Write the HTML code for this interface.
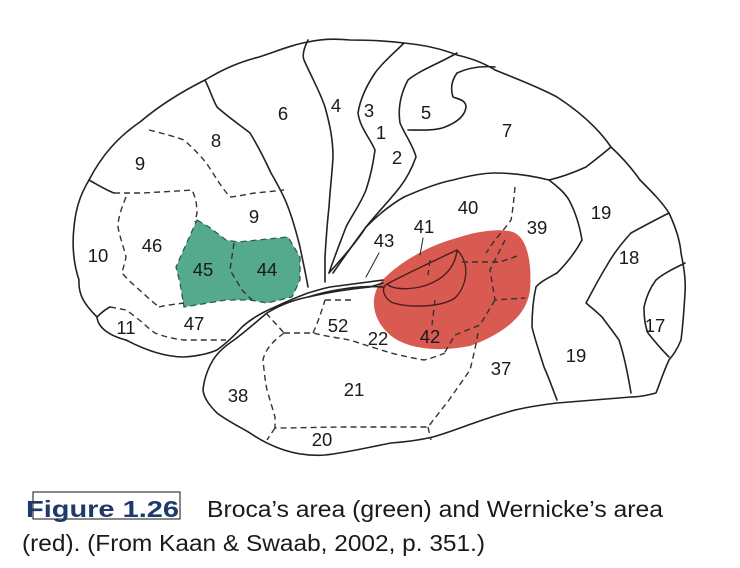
<!DOCTYPE html>
<html><head><meta charset="utf-8"><style>
html,body{margin:0;padding:0;background:#fff;}
svg{display:block;}
.s{fill:none;stroke:#222;stroke-width:1.6;stroke-linejoin:round;stroke-linecap:round;}
.d{fill:none;stroke:#333;stroke-width:1.4;stroke-dasharray:6 4;}
.l{font-family:"Liberation Sans",sans-serif;font-size:18.5px;fill:#1a1a1a;text-anchor:middle;}
</style></head><body>
<svg width="740" height="568" viewBox="0 0 740 568">
<g>
<path d="M197,220 L209,227 L226,240 L238,242 L288,237 L300,257 L300,280 L292,297 L267,303 L250,300 L226,300 L184,307 L180,283 L176,267 L188,240 Z" fill="#55a98c" stroke="#2d5e4e" stroke-width="1.3" stroke-dasharray="6 4"/>
<path class="d" d="M234,243 L230,270 L242,290 L255,303"/>
</g>
<g>
<path d="M457,238 C480,230 505,228 515,233 C528,240 532,265 530,290 C527,315 505,333 470,346 C440,352 405,350 388,333 C372,318 370,298 380,283 C398,262 430,245 457,238 Z" fill="#d85a50"/>
<path d="M457,250 C470,262 468,285 455,298 C440,308 405,308 391,302 C383,296 381,288 387,284 C410,272 440,258 457,250 Z M457,250 C455,270 440,282 420,287 C405,290 392,289 387,284" fill="none" stroke="#4a1e1e" stroke-width="1.4"/>
<path class="d" d="M462,262 L500,262 L520,255 M505,240 L490,270 L495,300 L525,298 M495,300 L480,325 L455,335 L445,352 M430,260 L428,275 M435,300 L432,325"/>
</g>
<g>
<path class="s" d="M126,340 C110,336 98,328 97,317 C85,305 78,295 79,280 C73,262 72,245 74,227 C76,205 82,192 89,180 C102,155 118,137 140,122 C160,105 185,90 205,80 C225,68 240,62 259,57 C280,50 295,44 308,42 C325,38 340,39 350,40 C370,40 388,41 404,43 C425,45 442,49 457,55 C470,58 484,63 495,70 C520,80 540,88 557,97 C580,112 598,128 611,147 C625,160 633,170 640,180 C652,192 662,202 669,213 C676,228 680,240 681,253 C684,268 686,280 685,293 C684,310 683,325 681,340 C677,350 673,355 669,360 C663,373 660,383 656,393 C645,396 638,397 631,397 C605,399 580,401 557,403 C540,405 528,407 515,410 C500,414 488,418 474,423 C460,428 447,433 433,437 C420,440 405,442 391,443 C370,447 345,453 325,455 C310,456 296,454 284,450 C272,446 260,440 250,433 C238,426 226,420 217,413 C209,405 204,398 203,390 C204,380 207,370 213,360 C218,352 225,346 234,340 C245,332 256,322 267,313 C280,305 293,300 308,297 C330,292 350,289 370,287 L383,283"/>
<path class="s" d="M126,340 C145,350 165,357 184,357 C198,356 208,354 217,350 C228,342 235,335 242,327 C252,318 263,312 275,307 C290,300 300,296 308,293 C318,290 325,288 330,287 L383,280"/>
<path class="s" d="M308,40 C304,48 302,55 304,60 C312,78 320,92 325,107 C330,125 333,140 333,157 C332,175 330,190 329,207 C327,225 326,240 325,257 C325,268 325,275 325,282"/>
<path class="s" d="M404,43 C392,55 382,63 375,73 C365,88 360,100 358,113 C360,128 370,138 375,150 C373,165 370,178 366,190 C360,205 352,215 346,227 C340,243 334,258 329,273"/>
<path class="s" d="M457,53 C440,63 420,70 408,80 C400,95 398,110 400,123 C405,135 413,145 416,157 C412,168 407,178 400,187 C390,200 378,212 366,227 C354,243 342,260 333,273"/>
<path class="s" d="M408,130 C420,130 435,131 445,127 C458,122 465,115 466,107 C466,100 458,99 453,97 C450,88 452,80 457,73 C470,67 484,66 495,67"/>
<path class="s" d="M404,197 C420,190 437,183 453,180 C468,176 482,173 495,173 C515,173 533,176 549,180 C562,177 575,172 586,167 C595,160 604,153 611,147"/>
<path class="s" d="M549,180 C558,187 565,193 569,200 C576,213 580,228 582,240 C575,253 566,264 557,273 C548,278 540,282 536,287 C533,300 532,315 532,327 C535,340 540,354 544,367 C549,378 553,390 557,400"/>
<path class="s" d="M669,213 C655,220 642,227 631,233 C620,245 612,256 606,267 C598,280 592,292 586,303 C592,308 598,313 602,317 C608,325 614,333 619,340 C624,355 628,375 631,393"/>
<path class="s" d="M685,263 C675,268 664,273 656,280 C650,288 646,298 644,307 C644,317 645,326 648,333 C655,342 662,350 669,357"/>
<path class="s" d="M205,80 C210,90 213,100 217,107 C228,117 240,125 250,133 C258,146 265,160 271,173 C278,185 284,196 288,207 C293,220 297,235 300,247 C303,262 306,275 308,287"/>
<path class="s" d="M89,180 C98,185 106,190 114,193"/>
<path class="s" d="M97,317 C102,312 106,309 110,307"/>
<path class="s" d="M329,273 C345,255 358,240 366,227 C378,215 390,205 404,197"/>
<path class="s" d="M308,297 C330,290 360,285 383,287"/>
</g>
<g>
<path class="d" d="M149,130 C165,134 176,137 184,140 C195,150 203,158 209,167 C216,178 222,188 230,197 C240,196 248,194 255,193 C265,192 275,191 284,190"/>
<path class="d" d="M114,193 C125,193 135,193 143,193 C160,192 178,191 192,190 C196,198 197,206 197,213 L195,222"/>
<path class="d" d="M126,197 C122,207 118,217 118,227 C120,238 124,248 126,257 C125,263 123,268 122,273 C128,280 136,287 143,293 C148,298 154,303 159,307"/>
<path class="d" d="M110,307 C116,308 121,309 126,310 C132,314 138,319 143,323 C147,327 151,330 155,333 C165,337 175,339 184,340 C198,340 212,340 226,340"/>
<path class="d" d="M159,307 C167,305 176,304 184,303"/>
<path class="d" d="M284,333 C295,333 305,333 313,333 C325,336 338,338 350,340 C365,345 378,349 391,353 C402,356 413,358 424,360 C432,358 438,356 445,353"/>
<path class="d" d="M284,333 C272,342 265,350 263,360 C264,370 265,380 267,390 C270,400 273,410 275,417 L275,428 C300,428 325,427 350,427 C375,427 400,427 428,427 C435,418 442,409 449,400 C456,390 463,380 470,370 C473,358 476,345 478,333"/>
<path class="d" d="M275,428 L267,440 M428,427 L431,440"/>
<path class="d" d="M515,187 C514,198 513,209 511,220 C506,227 500,234 495,240 L486,253"/>
<path class="d" d="M266,313 C272,320 278,326 284,333 M313,333 C318,322 322,310 325,300 M325,300 L355,300"/>
<path class="s" style="stroke-width:1" d="M379,253 L366,277 M423,238 L420,255"/>
</g>
<g>
<text class="l" x="283" y="120">6</text>
<text class="l" x="336" y="112">4</text>
<text class="l" x="369" y="117">3</text>
<text class="l" x="381" y="139">1</text>
<text class="l" x="397" y="164">2</text>
<text class="l" x="426" y="119">5</text>
<text class="l" x="507" y="137">7</text>
<text class="l" x="216" y="147">8</text>
<text class="l" x="140" y="170">9</text>
<text class="l" x="254" y="223">9</text>
<text class="l" x="98" y="262">10</text>
<text class="l" x="152" y="252">46</text>
<text class="l" x="203" y="276">45</text>
<text class="l" x="267" y="276">44</text>
<text class="l" x="194" y="330">47</text>
<text class="l" x="126" y="334">11</text>
<text class="l" x="384" y="247">43</text>
<text class="l" x="424" y="233">41</text>
<text class="l" x="468" y="214">40</text>
<text class="l" x="537" y="234">39</text>
<text class="l" x="601" y="219">19</text>
<text class="l" x="629" y="264">18</text>
<text class="l" x="655" y="332">17</text>
<text class="l" x="576" y="362">19</text>
<text class="l" x="501" y="375">37</text>
<text class="l" x="430" y="343">42</text>
<text class="l" x="378" y="345">22</text>
<text class="l" x="338" y="332">52</text>
<text class="l" x="238" y="402">38</text>
<text class="l" x="354" y="396">21</text>
<text class="l" x="322" y="446">20</text>
</g>
<g>
<rect x="33" y="492" width="147" height="27" fill="none" stroke="#111" stroke-width="1"/>
<text x="26" y="517" font-family="Liberation Sans, sans-serif" font-weight="bold" font-size="23" fill="#1d3a6a" textLength="153" lengthAdjust="spacingAndGlyphs">Figure 1.26</text>
<text x="207" y="517" font-family="Liberation Sans Narrow, Liberation Sans, sans-serif" font-size="23" fill="#1a1a1a" textLength="456" lengthAdjust="spacingAndGlyphs">Broca’s area (green) and Wernicke’s area</text>
<text x="22" y="551" font-family="Liberation Sans Narrow, Liberation Sans, sans-serif" font-size="23" fill="#1a1a1a" textLength="463" lengthAdjust="spacingAndGlyphs">(red). (From Kaan &amp; Swaab, 2002, p. 351.)</text>
</g>
</svg>
</body></html>
